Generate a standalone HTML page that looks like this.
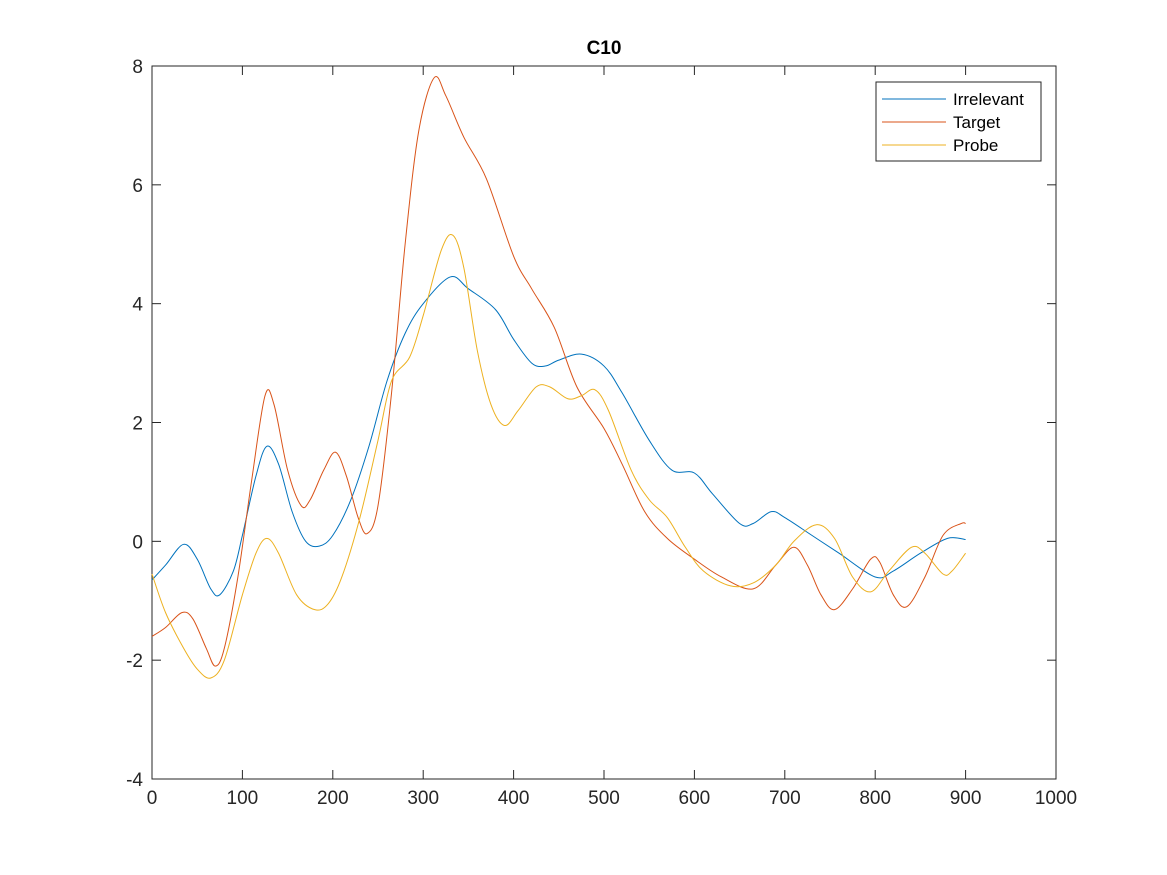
<!DOCTYPE html>
<html><head><meta charset="utf-8"><style>
body{margin:0;background:#fff;}
svg{display:block;font-family:"Liberation Sans",Helvetica,Arial,sans-serif;}
</style></head><body>
<svg id="chart" width="1167" height="875">
<rect width="1167" height="875" fill="#fff"/>
</svg>
<script>
const xTicks=[0,100,200,300,400,500,600,700,800,900,1000];
const yTicks=[-4,-2,0,2,4,6,8];
const irrX=[0,15,35,50,65,75,90,100,115,127,140,155,170,185,200,220,240,260,280,300,330,350,380,400,420,435,450,475,500,520,550,575,600,620,650,665,685,700,730,760,800,820,850,880,900];
const irrY=[-0.65,-0.4,-0.05,-0.3,-0.8,-0.9,-0.5,0.1,1.1,1.6,1.3,0.5,0.0,-0.08,0.1,0.7,1.6,2.7,3.5,4.0,4.45,4.25,3.9,3.4,3.0,2.95,3.05,3.15,2.95,2.5,1.7,1.2,1.15,0.8,0.3,0.3,0.5,0.4,0.1,-0.2,-0.6,-0.5,-0.2,0.05,0.03];
const tgtX=[0,15,33,45,60,70,80,95,110,125,135,150,165,175,190,203,215,228,238,250,265,280,295,312,325,345,370,400,420,445,470,500,520,545,570,600,630,665,690,710,725,740,755,775,795,805,820,835,855,875,895,900];
const tgtY=[-1.6,-1.45,-1.2,-1.3,-1.8,-2.1,-1.8,-0.6,1.0,2.45,2.3,1.2,0.6,0.7,1.2,1.5,1.1,0.4,0.13,0.6,2.5,5.0,6.9,7.8,7.5,6.8,6.1,4.8,4.25,3.6,2.6,1.9,1.3,0.5,0.05,-0.3,-0.6,-0.8,-0.4,-0.1,-0.4,-0.9,-1.15,-0.8,-0.3,-0.35,-0.9,-1.1,-0.6,0.1,0.3,0.3];
const prbX=[0,15,35,50,65,80,100,115,127,140,160,180,195,210,230,250,265,285,300,320,333,345,360,375,390,405,425,440,460,475,490,505,530,550,570,590,610,640,665,690,710,735,755,775,795,815,840,855,875,885,900];
const prbY=[-0.55,-1.2,-1.8,-2.15,-2.3,-2.0,-0.9,-0.2,0.05,-0.2,-0.9,-1.15,-1.05,-0.6,0.4,1.7,2.7,3.1,3.8,4.9,5.15,4.6,3.2,2.3,1.95,2.2,2.6,2.6,2.4,2.45,2.55,2.2,1.2,0.7,0.4,-0.1,-0.5,-0.75,-0.7,-0.4,0.0,0.28,0.05,-0.6,-0.85,-0.5,-0.1,-0.2,-0.55,-0.5,-0.2];

const L=152,R=1056,T=66,B=779;
const sx=v=>L+(v-0)/1000*(R-L);
const sy=v=>B-(v+4)/12*(B-T);
const svg=document.getElementById('chart');
const NS='http://www.w3.org/2000/svg';
function mk(tag,attrs,parent){const e=document.createElementNS(NS,tag);for(const k in attrs)e.setAttribute(k,attrs[k]);(parent||svg).appendChild(e);return e;}

const box=mk('rect',{x:L,y:T,width:R-L,height:B-T,fill:'none',stroke:'#262626','stroke-width':1});



xTicks.forEach(t=>{
  const x=sx(t);
  mk('line',{x1:x,y1:B,x2:x,y2:B-9,stroke:'#262626'});
  mk('line',{x1:x,y1:T,x2:x,y2:T+9,stroke:'#262626'});
  const tx=mk('text',{x:x,y:B+25,'text-anchor':'middle','font-size':19,fill:'#262626'});
  tx.textContent=t;
  
  
});
yTicks.forEach(t=>{
  const y=sy(t);
  mk('line',{x1:L,y1:y,x2:L+9,y2:y,stroke:'#262626'});
  mk('line',{x1:R,y1:y,x2:R-9,y2:y,stroke:'#262626'});
  const tx=mk('text',{x:L-9,y:y+7,'text-anchor':'end','font-size':19,fill:'#262626'});
  tx.textContent=t;
  
  
});
const title=mk('text',{x:604,y:54,'text-anchor':'middle','font-size':19,'font-weight':'bold',fill:'#000'});
title.textContent='C10';



function curve(xs,ys){
  const p=xs.map((x,i)=>[sx(x),sy(ys[i])]);
  let d='M'+p[0][0]+','+p[0][1];
  for(let i=0;i<p.length-1;i++){
    const p0=p[i-1]||p[i],p1=p[i],p2=p[i+1],p3=p[i+2]||p[i+1];
    const c1=[p1[0]+(p2[0]-p0[0])/6,p1[1]+(p2[1]-p0[1])/6];
    const c2=[p2[0]-(p3[0]-p1[0])/6,p2[1]-(p3[1]-p1[1])/6];
    d+=' C'+c1[0]+','+c1[1]+' '+c2[0]+','+c2[1]+' '+p2[0]+','+p2[1];
  }
  return d;
}
const s1=mk('path',{d:curve(irrX,irrY),fill:'none',stroke:'#0072BD','stroke-width':1});


const s2=mk('path',{d:curve(tgtX,tgtY),fill:'none',stroke:'#D95319','stroke-width':1});


const s3=mk('path',{d:curve(prbX,prbY),fill:'none',stroke:'#EDB120','stroke-width':1});



const lg=mk('g',{});


mk('rect',{x:876,y:82,width:165,height:79,fill:'#fff',stroke:'#262626'},lg);
[['Irrelevant','#0072BD'],['Target','#D95319'],['Probe','#EDB120']].forEach((e,i)=>{
  const y=99+i*23;
  const g=mk('g',{},lg);
  
  
  mk('line',{x1:882,y1:y,x2:946,y2:y,stroke:e[1]},g);
  const t=mk('text',{x:953,y:y+6,'font-size':17,fill:'#000'},g);
  t.textContent=e[0];
});
</script>
</body></html>
